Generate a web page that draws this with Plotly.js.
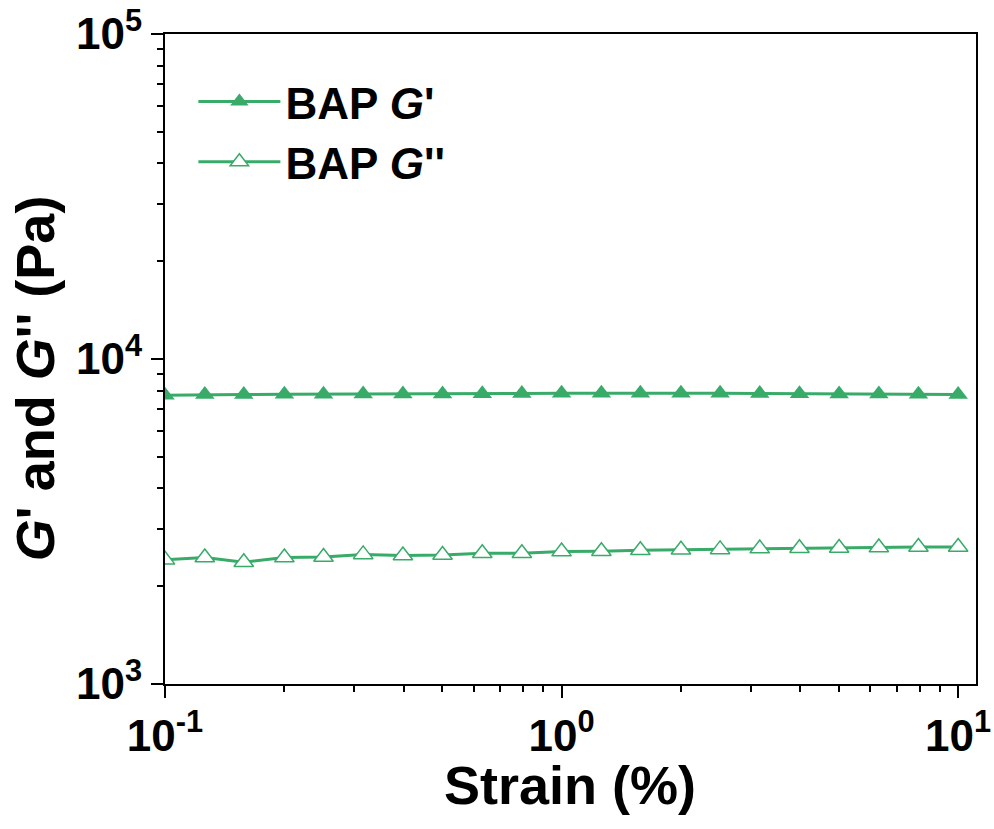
<!DOCTYPE html>
<html>
<head>
<meta charset="utf-8">
<script src="https://cdn.plot.ly/plotly-3.0.1.min.js"></script>
<style>html,body{margin:0;padding:0;background:#fff;}#chart{width:994px;height:829px;}</style>
</head>
<body>
<div id="chart"></div>
<script>
// Data
const strain = [0.1, 0.126, 0.158, 0.2, 0.251, 0.316, 0.398, 0.501, 0.631, 0.794, 1, 1.26, 1.58, 2, 2.51, 3.16, 3.98, 5.01, 6.31, 7.94, 10];
const gPrime = [7740, 7780, 7780, 7790, 7790, 7800, 7800, 7810, 7820, 7830, 7840, 7850, 7850, 7840, 7840, 7830, 7820, 7810, 7800, 7790, 7770];
const gDoublePrime = [2410, 2450, 2370, 2450, 2460, 2505, 2485, 2495, 2525, 2525, 2555, 2560, 2580, 2590, 2595, 2610, 2615, 2620, 2630, 2640, 2640];
const seriesNames = ["BAP <i>G</i>'", "BAP <i>G</i>''"];
const xTitle = 'Strain (%)';
const yTitle = "<i>G</i>' and <i>G</i>'' (Pa)";

const xTickVals = [0.1, 1, 10];
const xTickText = ['10<sup>-1</sup>', '10<sup>0</sup>', '10<sup>1</sup>'];
const xMinorVals = [0.2,0.3,0.4,0.5,0.6,0.7,0.8,0.9,2,3,4,5,6,7,8,9];
const yTickVals = [1000, 10000, 100000];
const yTickText = ['10<sup>3</sup>', '10<sup>4</sup>', '10<sup>5</sup>'];
const yMinorVals = [2000,3000,4000,5000,6000,7000,8000,9000,20000,30000,40000,50000,60000,70000,80000,90000];

const green = '#38ab69';
const fontFam = 'Liberation Sans, Arial, sans-serif';

const traces = [
  {
    x: strain, y: gPrime, name: seriesNames[0], type: 'scatter', mode: 'lines+markers',
    line: {color: green, width: 3},
    marker: {symbol: 'triangle-up', size: 17, color: green, line: {color: green, width: 0}}
  },
  {
    x: strain, y: gDoublePrime, name: seriesNames[1], type: 'scatter', mode: 'lines+markers',
    line: {color: green, width: 3},
    marker: {symbol: 'triangle-up', size: 17, color: '#ffffff', line: {color: green, width: 1.5}}
  }
];

const axisCommon = {
  type: 'log', showgrid: false, zeroline: false,
  showline: true, linewidth: 2, linecolor: '#000', mirror: true,
  ticks: 'outside', ticklen: 12, tickwidth: 2, tickcolor: '#000',
  tickmode: 'array',
  tickfont: {family: fontFam, size: 44, color: '#000', weight: 'bold'},
};

const layout = {
  width: 994, height: 829,
  margin: {l: 165, r: 18, t: 34, b: 145},
  paper_bgcolor: '#fff', plot_bgcolor: '#fff',
  showlegend: true,
  legend: {
    x: 0.035, y: 0.95, xanchor: 'left', yanchor: 'top',
    bgcolor: 'rgba(0,0,0,0)', borderwidth: 0,
    font: {family: fontFam, size: 44, color: '#000', weight: 'bold'},
    tracegroupgap: 0, itemwidth: 82
  },
  xaxis: Object.assign({}, axisCommon, {
    range: [-1, 1.045],
    tickvals: xTickVals, ticktext: xTickText,
    minor: {ticks: 'outside', ticklen: 6, tickwidth: 2, tickcolor: '#000', tickmode: 'array', tickvals: xMinorVals, showgrid: false}
  }),
  yaxis: Object.assign({}, axisCommon, {
    range: [3, 5],
    tickvals: yTickVals, ticktext: yTickText,
    minor: {ticks: 'outside', ticklen: 6, tickwidth: 2, tickcolor: '#000', tickmode: 'array', tickvals: yMinorVals, showgrid: false}
  }),
  annotations: [
    {
      text: xTitle, xref: 'paper', yref: 'paper', x: 0.499, y: -0.156,
      xanchor: 'center', yanchor: 'middle', showarrow: false,
      font: {family: fontFam, size: 54, color: '#000', weight: 'bold'}
    },
    {
      text: yTitle, xref: 'paper', yref: 'paper', x: -0.16, y: 0.4708,
      xanchor: 'center', yanchor: 'middle', textangle: -90, showarrow: false,
      font: {family: fontFam, size: 54, color: '#000', weight: 'bold'}
    }
  ]
};

Plotly.newPlot('chart', traces, layout, {displayModeBar: false, staticPlot: true});
</script>
</body>
</html>
